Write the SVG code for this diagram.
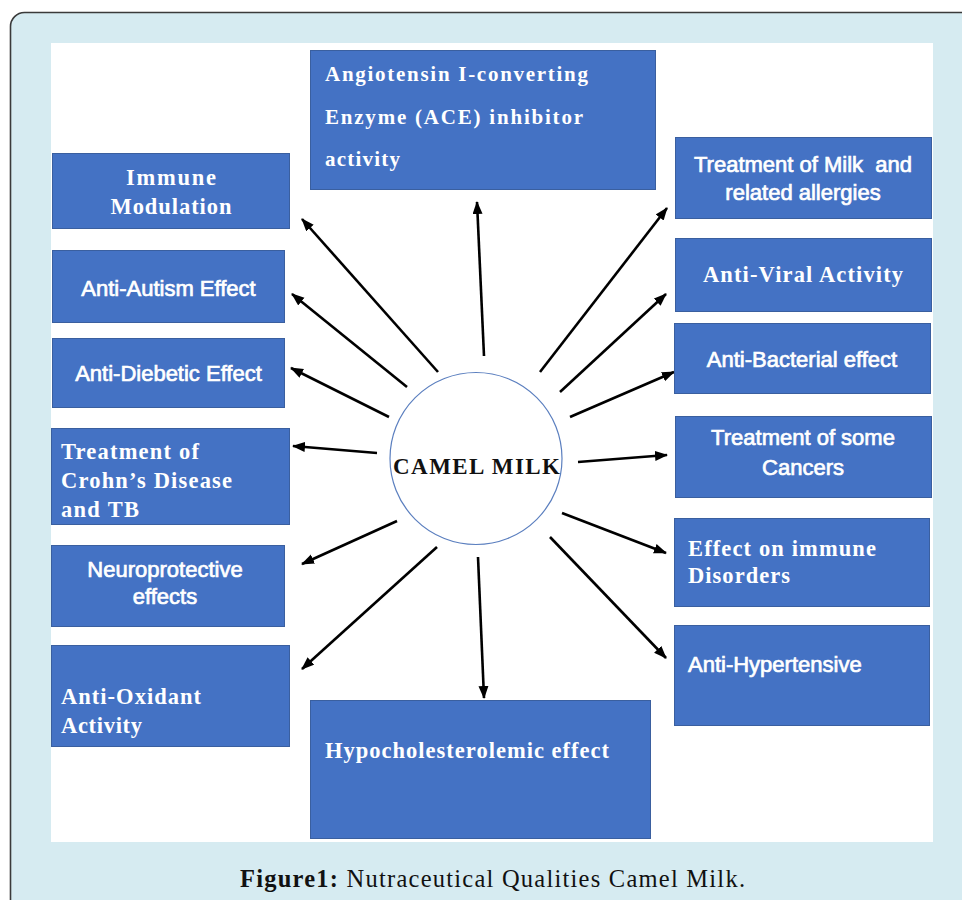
<svg xmlns="http://www.w3.org/2000/svg" width="962" height="900" viewBox="0 0 962 900">
<style>
.frame{fill:#d6ebf1;stroke:#3a3a3a;stroke-width:1.6}
.box{fill:#4472c4;stroke:#3a5f9f;stroke-width:1}
.serif{font-family:"Liberation Serif","Times New Roman",serif;font-weight:bold;font-size:22.5px;fill:#ffffff}
.ace{font-size:21px}
.sans{font-family:"Liberation Sans",Arial,sans-serif;font-size:22px;fill:#ffffff;stroke:#ffffff;stroke-width:0.7}
.mid{text-anchor:middle}
.conn line{stroke:#000;stroke-width:2.6;marker-end:url(#ah)}
</style>
<defs>
<marker id="ah" markerUnits="userSpaceOnUse" markerWidth="14" markerHeight="12" refX="12" refY="5" orient="auto">
<path d="M0,0 L13,5 L0,10 z" fill="#000"/>
</marker>
</defs>
<rect class="frame" x="10.5" y="12.5" width="980" height="920" rx="14"/>
<rect x="51" y="43" width="882" height="799" fill="#ffffff"/>

<g class="conn" id="connectors">
<line x1="438" y1="372" x2="302" y2="219"/>
<line x1="407" y1="387" x2="292" y2="294"/>
<line x1="389" y1="417" x2="291" y2="368"/>
<line x1="377" y1="453" x2="293" y2="446"/>
<line x1="397" y1="521" x2="302" y2="564"/>
<line x1="437" y1="547" x2="302" y2="669"/>
<line x1="478" y1="557" x2="484" y2="698"/>
<line x1="550" y1="537" x2="666" y2="658"/>
<line x1="562" y1="513" x2="666" y2="553"/>
<line x1="578" y1="462" x2="667" y2="455"/>
<line x1="570" y1="417" x2="674" y2="372"/>
<line x1="560" y1="392" x2="666" y2="294"/>
<line x1="540" y1="372" x2="667" y2="208"/>
<line x1="484" y1="356" x2="477" y2="202"/>
</g>

<g id="n-center">
<circle cx="476" cy="458.5" r="86" fill="#ffffff" stroke="#5b7fbf" stroke-width="1.2"/>
<text x="476.5" y="474" text-anchor="middle" font-family="Liberation Serif, Times New Roman, serif" font-weight="bold" font-size="23" fill="#111" textLength="167" lengthAdjust="spacing">CAMEL MILK</text>
</g>

<g id="n-ace">
<rect class="box" x="310.5" y="50.5" width="345" height="139"/>
<text class="serif ace" x="325" y="81" textLength="263" lengthAdjust="spacing">Angiotensin I-converting</text>
<text class="serif ace" x="325" y="124" textLength="258" lengthAdjust="spacing">Enzyme (ACE) inhibitor</text>
<text class="serif ace" x="325" y="166" textLength="75" lengthAdjust="spacing">activity</text>
</g>

<g id="n-immune">
<rect class="box" x="52.5" y="153.5" width="237" height="75"/>
<text class="serif mid" x="171" y="185" textLength="90" lengthAdjust="spacing">Immune</text>
<text class="serif mid" x="171" y="214" textLength="121" lengthAdjust="spacing">Modulation</text>
</g>

<g id="n-autism">
<rect class="box" x="52.5" y="250.5" width="232" height="72"/>
<text class="sans mid" x="168.5" y="296">Anti-Autism Effect</text>
</g>

<g id="n-diabetic">
<rect class="box" x="52.5" y="338.5" width="232" height="69"/>
<text class="sans mid" x="168.5" y="381">Anti-Diebetic Effect</text>
</g>

<g id="n-crohn">
<rect class="box" x="51.5" y="428.5" width="238" height="96"/>
<text class="serif" x="61" y="459" textLength="138" lengthAdjust="spacing">Treatment of</text>
<text class="serif" x="61" y="488" textLength="171" lengthAdjust="spacing">Crohn’s Disease</text>
<text class="serif" x="61" y="517" textLength="78" lengthAdjust="spacing">and TB</text>
</g>

<g id="n-neuro">
<rect class="box" x="51.5" y="545.5" width="233" height="81"/>
<text class="sans mid" x="165" y="577">Neuroprotective</text>
<text class="sans mid" x="165" y="604">effects</text>
</g>

<g id="n-oxidant">
<rect class="box" x="51.5" y="645.5" width="238" height="101"/>
<text class="serif" x="61" y="704" textLength="140" lengthAdjust="spacing">Anti-Oxidant</text>
<text class="serif" x="61" y="733" textLength="81" lengthAdjust="spacing">Activity</text>
</g>

<g id="n-hypochol">
<rect class="box" x="310.5" y="700.5" width="340" height="138"/>
<text class="serif" x="325" y="758" textLength="284" lengthAdjust="spacing">Hypocholesterolemic effect</text>
</g>

<g id="n-allergies">
<rect class="box" x="675.5" y="137.5" width="256" height="81"/>
<text class="sans mid" x="803" y="172" style="white-space:pre">Treatment of Milk  and</text>
<text class="sans mid" x="803" y="200">related allergies</text>
</g>

<g id="n-viral">
<rect class="box" x="675.5" y="238.5" width="256" height="73"/>
<text class="serif mid" x="803" y="282" textLength="200" lengthAdjust="spacing">Anti-Viral Activity</text>
</g>

<g id="n-bacterial">
<rect class="box" x="674.5" y="323.5" width="256" height="70"/>
<text class="sans mid" x="802" y="367">Anti-Bacterial effect</text>
</g>

<g id="n-cancers">
<rect class="box" x="675.5" y="416.5" width="256" height="81"/>
<text class="sans mid" x="803" y="445">Treatment of some</text>
<text class="sans mid" x="803" y="475">Cancers</text>
</g>

<g id="n-immune-disorders">
<rect class="box" x="674.5" y="518.5" width="255" height="88"/>
<text class="serif" x="688" y="556" textLength="188" lengthAdjust="spacing">Effect on immune</text>
<text class="serif" x="688" y="583" textLength="102" lengthAdjust="spacing">Disorders</text>
</g>

<g id="n-hypertensive">
<rect class="box" x="674.5" y="625.5" width="255" height="100"/>
<text class="sans" x="688" y="672">Anti-Hypertensive</text>
</g>

<text x="240" y="887" font-family="Liberation Serif, Times New Roman, serif" font-size="24.5" fill="#111" textLength="505" lengthAdjust="spacing"><tspan font-weight="bold">Figure1:</tspan> Nutraceutical Qualities Camel Milk.</text>
</svg>
